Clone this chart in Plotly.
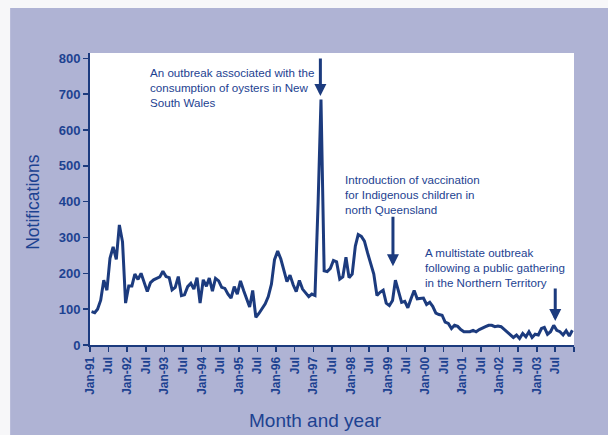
import pandas as pd
import plotly.graph_objects as go

# Monthly hepatitis A notifications, Jan 1991 - Dec 2003
notifications = [
    93, 90, 100, 125, 181, 153, 242, 274, 239, 335, 288, 117,      # 1991
    165, 165, 198, 183, 200, 172, 149, 174, 182, 186, 190, 206,    # 1992
    191, 188, 154, 161, 191, 138, 140, 163, 172, 156, 188, 117,    # 1993
    182, 164, 187, 150, 186, 179, 161, 158, 142, 131, 163, 142,    # 1994
    179, 152, 129, 106, 152, 77, 88, 100, 115, 135, 170, 238,      # 1995
    262, 240, 210, 177, 195, 168, 149, 180, 156, 146, 135, 142,    # 1996
    138, 400, 685, 207, 205, 214, 236, 232, 184, 190, 245, 188,    # 1997
    198, 276, 308, 303, 290, 257, 225, 198, 138, 147, 153, 117,    # 1998
    110, 124, 181, 152, 119, 122, 104, 129, 152, 129, 129, 131,    # 1999
    113, 119, 108, 89, 85, 83, 64, 60, 46, 55, 52, 43,             # 2000
    37, 37, 37, 41, 37, 43, 46, 51, 55, 55, 51, 53,                # 2001
    51, 43, 37, 30, 21, 28, 18, 32, 23, 37, 21, 30,                # 2002
    28, 46, 49, 30, 37, 55, 41, 37, 28, 40, 25, 41,                # 2003
]

tick_labels = [
    "Jan-91", "Jul", "Jan-92", "Jul", "Jan-93", "Jul", "Jan-94", "Jul",
    "Jan-95", "Jul", "Jan-96", "Jul", "Jan-97", "Jul", "Jan-98", "Jul",
    "Jan-99", "Jul", "Jan-00", "Jul", "Jan-01", "Jul", "Jan-02", "Jul",
    "Jan-03", "Jul", "",
]

y_ticks = [0, 100, 200, 300, 400, 500, 600, 700, 800]

notes = [
    "An outbreak associated with the<br>consumption of oysters in New<br>South Wales",
    "Introduction of vaccination<br>for Indigenous children in<br>north Queensland",
    "A multistate outbreak<br>following a public gathering<br>in the Northern Territory",
]

months = pd.date_range("1991-01-01", periods=len(notifications), freq="MS") + pd.Timedelta(days=15)
tick_dates = pd.date_range("1991-01-01", periods=len(tick_labels), freq="6MS")

BG = "#afb3d4"
NAVY = "#1c3b7e"
TXT = "#1d4291"

fig = go.Figure()
fig.add_trace(go.Scatter(
    x=months, y=notifications, mode="lines",
    line=dict(color=NAVY, width=3), hoverinfo="skip", showlegend=False,
))

font_main = "Arial, Liberation Sans, sans-serif"

ann = []
# arrows (tip at data position, tail offset in pixels)
arrow_specs = [
    (pd.Timestamp("1997-03-10"), 695, -39),
    (pd.Timestamp("1999-02-20"), 220, -51),
    (pd.Timestamp("2003-07-01"), 67, -34),
]
for xa, ya, ay in arrow_specs:
    ann.append(dict(x=xa, y=ya, xref="x", yref="y", text="", showarrow=True,
                    ax=0, ay=ay, arrowhead=2, arrowsize=0.8, arrowwidth=3,
                    arrowcolor=NAVY, standoff=0))

note_pos = [(0.120, 0.962), (0.523, 0.595), (0.688, 0.345)]
for txt, (px, py) in zip(notes, note_pos):
    ann.append(dict(x=px, y=py, xref="paper", yref="paper", text=txt,
                    showarrow=False, xanchor="left", yanchor="top", align="left",
                    font=dict(family=font_main, size=11.6, color=TXT)))

ann.append(dict(x=-0.118, y=0.49, xref="paper", yref="paper", text="Notifications",
                textangle=-90, showarrow=False, xanchor="center", yanchor="middle",
                font=dict(family=font_main, size=17.5, color=TXT)))
ann.append(dict(x=0.465, y=-0.257, xref="paper", yref="paper", text="Month and year",
                showarrow=False, xanchor="center", yanchor="middle",
                font=dict(family=font_main, size=19, color=TXT)))

shapes = [
    dict(type="rect", xref="paper", yref="paper", x0=-0.3, x1=1.2, y0=1.154, y1=1.3,
         fillcolor="#f7f7f9", line=dict(width=0), layer="below"),
    dict(type="rect", xref="paper", yref="paper", x0=-0.3, x1=-0.165, y0=-0.4, y1=1.3,
         fillcolor="#f7f7f9", line=dict(width=0), layer="below"),
]

fig.update_layout(
    width=608, height=435,
    margin=dict(l=90, r=34, t=53, b=90),
    paper_bgcolor=BG, plot_bgcolor="white",
    annotations=ann, shapes=shapes,
    showlegend=False,
)
fig.update_xaxes(
    range=[pd.Timestamp("1991-01-01"), pd.Timestamp("2004-01-01")],
    tickmode="array", tickvals=tick_dates, ticktext=tick_labels,
    tickangle=-90, ticks="outside", ticklen=5, tickwidth=1.5, tickcolor=NAVY,
    showline=True, linecolor=NAVY, linewidth=2, showgrid=False, zeroline=False,
    tickfont=dict(family=font_main, size=12, color=TXT, weight="bold"),
)
fig.update_yaxes(
    range=[0, 815], tickmode="array", tickvals=y_ticks,
    ticks="outside", ticklen=5, tickwidth=1.5, tickcolor=NAVY,
    showline=True, linecolor=NAVY, linewidth=2, showgrid=False, zeroline=False,
    tickfont=dict(family=font_main, size=13, color=TXT, weight="bold"),
)

fig.write_html(
    "out.html",
    config={"displayModeBar": False, "staticPlot": True},
    post_script="document.body.style.margin='0';document.body.style.overflow='hidden';",
)
